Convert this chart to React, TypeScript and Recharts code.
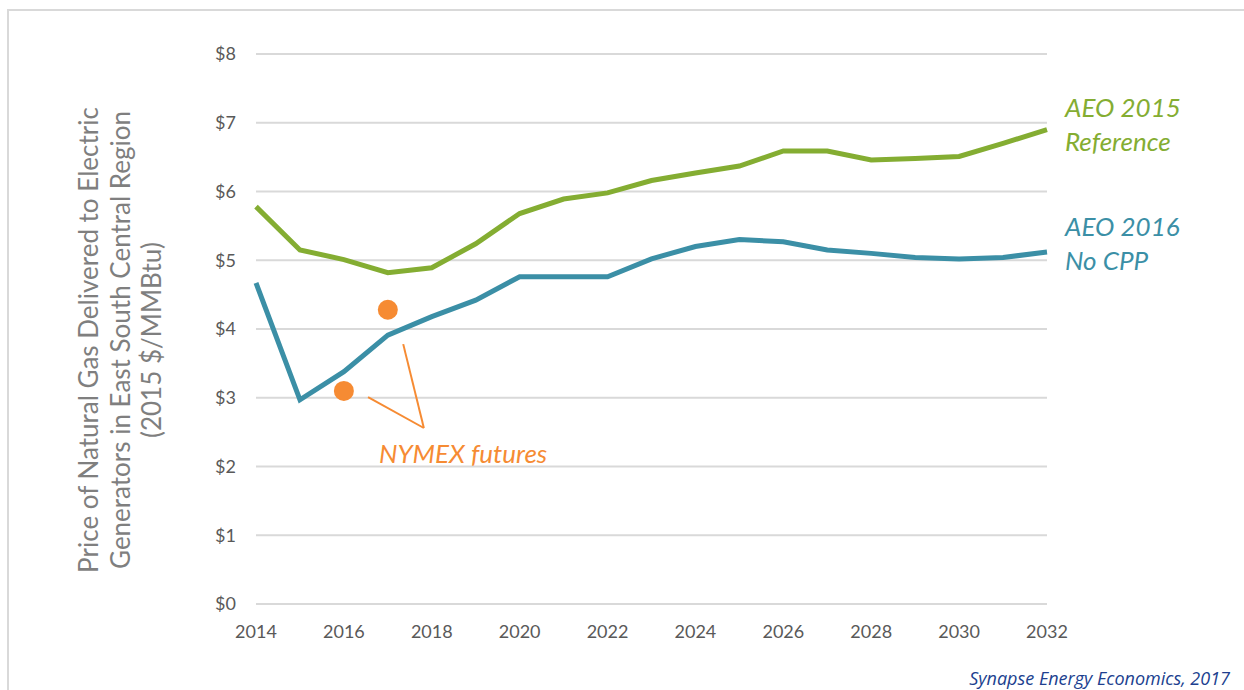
import { ComposedChart, Line, Scatter, XAxis, YAxis, CartesianGrid, ReferenceLine } from 'recharts';

// Años y precios (2015 $/MMBtu)
const YEARS = [2014, 2015, 2016, 2017, 2018, 2019, 2020, 2021, 2022, 2023, 2024, 2025, 2026, 2027, 2028, 2029, 2030, 2031, 2032];
const AEO_2015_REF = [5.78, 5.15, 5.01, 4.82, 4.89, 5.24, 5.68, 5.89, 5.98, 6.16, 6.27, 6.37, 6.59, 6.59, 6.46, 6.48, 6.51, 6.70, 6.90];
const AEO_2016_NOCPP = [4.67, 2.97, 3.38, 3.91, 4.18, 4.42, 4.76, 4.76, 4.76, 5.02, 5.20, 5.30, 5.27, 5.15, 5.10, 5.04, 5.02, 5.04, 5.12];
const NYMEX_YEARS = [2016, 2017];
const NYMEX_PRICES = [3.1, 4.28];

const X_TICKS = [2014, 2016, 2018, 2020, 2022, 2024, 2026, 2028, 2030, 2032];
const Y_TICKS = [0, 1, 2, 3, 4, 5, 6, 7, 8];

// flechas de la anotación NYMEX (en coordenadas de datos)
const ARROW_TIP = { x: 2017.82, y: 2.56 };
const ARROW_FROM_LOW = { x: 2016.55, y: 3.01 };
const ARROW_FROM_HIGH = { x: 2017.35, y: 3.78 };

const GREEN = '#84ad32';
const BLUE = '#3b8fa6';
const ORANGE = '#f68b33';
const GRID = '#d9d9d9';
const TICK = '#595959';
const FONT = 'Lato, "Open Sans", sans-serif';

const data = YEARS.map((year, i) => ({ year, aeo2015: AEO_2015_REF[i], aeo2016: AEO_2016_NOCPP[i] }));
const nymexData = NYMEX_YEARS.map((year, i) => ({ year, price: NYMEX_PRICES[i] }));

const tickStyle = { fill: TICK, fontSize: 18, fontFamily: FONT };

export default function App() {
  return (
    <div style={{ position: 'fixed', left: 0, top: 0, width: 1244, height: 690, overflow: 'hidden', background: '#fff' }}>
      {/* marco gris */}
      <div style={{ position: 'absolute', left: 7, top: 9, width: 1300, height: 800, borderTop: `2px solid ${GRID}`, borderLeft: `2px solid ${GRID}` }} />

      <div style={{ position: 'absolute', left: 0, top: 0 }}>
        <ComposedChart width={1244} height={690} data={data} margin={{ top: 54, right: 197, bottom: 56, left: 196 }}>
          <CartesianGrid vertical={false} stroke={GRID} strokeWidth={2} />
          <XAxis
            dataKey="year"
            type="number"
            domain={[2014, 2032]}
            ticks={X_TICKS}
            height={30}
            axisLine={false}
            tickLine={false}
            tickSize={0}
            tickMargin={21}
            tick={tickStyle}
          />
          <YAxis
            width={60}
            domain={[0, 8]}
            ticks={Y_TICKS}
            axisLine={false}
            tickLine={false}
            tickSize={0}
            tickMargin={20}
            tick={tickStyle}
            tickFormatter={(v) => `$${v}`}
          />
          <Line dataKey="aeo2015" stroke={GREEN} strokeWidth={5} dot={false} isAnimationActive={false} />
          <Line dataKey="aeo2016" stroke={BLUE} strokeWidth={5} dot={false} isAnimationActive={false} />
          <ReferenceLine segment={[ARROW_FROM_LOW, ARROW_TIP]} stroke={ORANGE} strokeWidth={2} />
          <ReferenceLine segment={[ARROW_FROM_HIGH, ARROW_TIP]} stroke={ORANGE} strokeWidth={2} />
          <Scatter
            data={nymexData}
            dataKey="price"
            isAnimationActive={false}
            shape={(p: any) => <circle cx={p.cx} cy={p.cy} r={10} fill={ORANGE} />}
          />
        </ComposedChart>
      </div>

      {/* textos */}
      <svg width={1244} height={690} style={{ position: 'absolute', left: 0, top: 0, pointerEvents: 'none' }}>
        <g fontFamily={FONT} fill="#7f7f7f" fontSize={26} textAnchor="middle">
          <text transform="translate(98,340) rotate(-90)">Price of Natural Gas Delivered to Electric</text>
          <text transform="translate(130,340) rotate(-90)">Generators in East South Central Region</text>
          <text transform="translate(161,340) rotate(-90)">(2015 $/MMBtu)</text>
        </g>
        <g fontFamily={FONT} fontStyle="italic" fontSize={26}>
          <text x={1065} y={117} fill={GREEN}>AEO 2015</text>
          <text x={1065} y={151} fill={GREEN}>Reference</text>
          <text x={1065} y={236} fill={BLUE}>AEO 2016</text>
          <text x={1065} y={270} fill={BLUE}>No CPP</text>
          <text x={379} y={463} fill={ORANGE}>NYMEX futures</text>
        </g>
        <text x={1230} y={685} textAnchor="end" fontFamily='"Open Sans", sans-serif' fontStyle="italic" fontSize={18} fill="#203f8f">
          Synapse Energy Economics, 2017
        </text>
      </svg>
    </div>
  );
}
